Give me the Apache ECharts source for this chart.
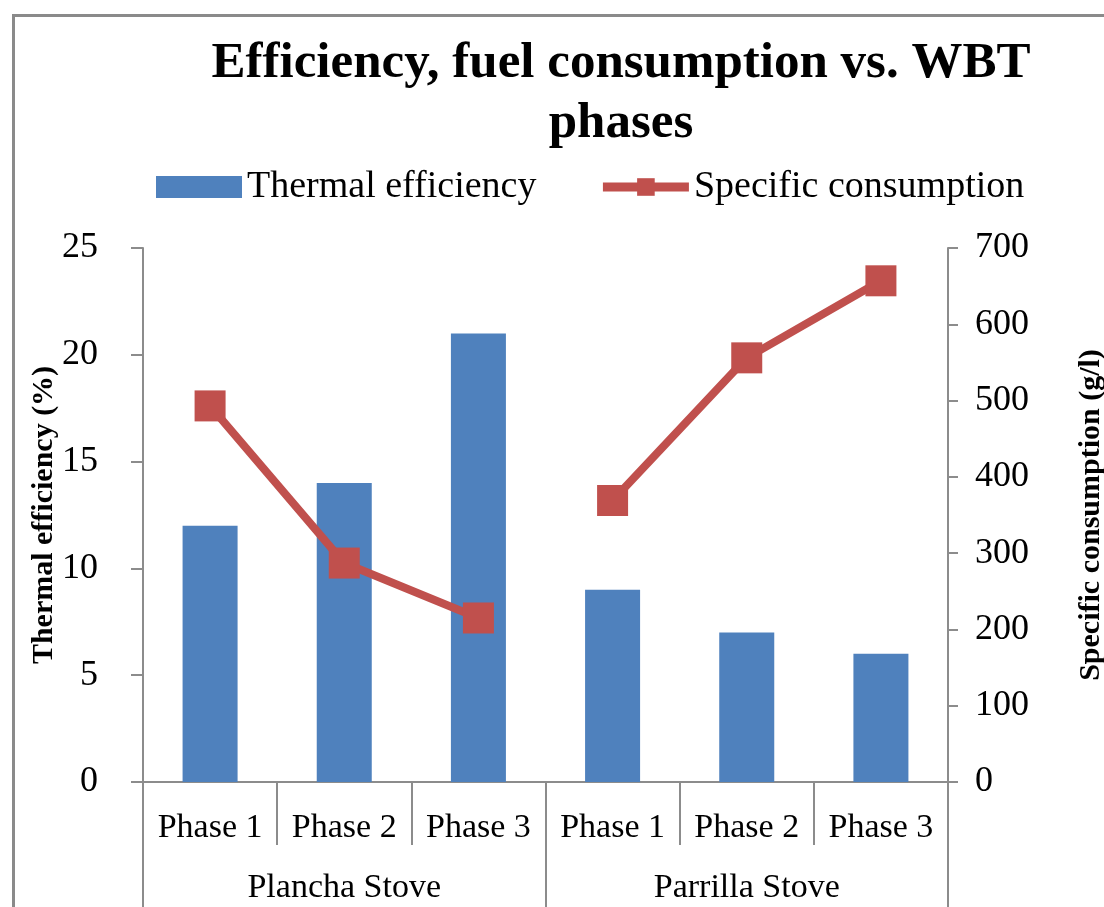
<!DOCTYPE html>
<html>
<head>
<meta charset="utf-8">
<script src="https://cdn.jsdelivr.net/npm/echarts@6/dist/echarts.min.js"></script>
<style>
html,body{margin:0;padding:0;background:#fff;}
#chart{width:1104px;height:907px;}
</style>
</head>
<body>
<div id="chart"></div>
<script>
const phases = ['Phase 1', 'Phase 2', 'Phase 3', 'Phase 1', 'Phase 2', 'Phase 3'];
const stoves = ['Plancha Stove', 'Parrilla Stove'];
const thermalEfficiency = [12, 14, 21, 9, 7, 6];
const specificConsumption = [493, 287, 215, 369, 556, 657];
const leftTicks = {min: 0, max: 25, interval: 5};
const rightTicks = {min: 0, max: 700, interval: 100};

// the line is broken between the two stoves
const perStove = phases.length / stoves.length;
const consumptionByStove = stoves.map((s, k) =>
  specificConsumption.map((v, i) => Math.floor(i / perStove) === k ? v : '-'));

const serif = 'Liberation Serif';
const axisGray = '#8c8c8c';
const red = '#C0504D';
const chart = echarts.init(document.getElementById('chart'));
chart.setOption({
  animation: false,
  backgroundColor: '#fff',
  graphic: [{
    type: 'rect', left: 11, top: 13, silent: true,
    shape: {width: 1120, height: 920},
    style: {fill: 'none', stroke: '#8a8a8a', lineWidth: 3}
  }],
  title: {
    text: 'Efficiency, fuel consumption vs. WBT\nphases',
    left: 616, top: 29, textAlign: 'center',
    textStyle: {fontFamily: serif, fontWeight: 'bold', fontSize: 51, lineHeight: 60, color: '#000'}
  },
  legend: {
    left: 151, top: 163, itemGap: 62, itemWidth: 86, itemHeight: 22,
    textStyle: {fontFamily: serif, fontSize: 38, color: '#000'},
    lineStyle: {width: 9},
    data: [{name: 'Thermal efficiency', icon: 'rect'}, {name: 'Specific consumption'}]
  },
  grid: {left: 143, right: 156, top: 248, bottom: 125, containLabel: false, outerBoundsMode: 'none'},
  xAxis: [{
    type: 'category', data: phases, position: 'bottom',
    axisLine: {show: true, lineStyle: {color: axisGray, width: 2}},
    axisTick: {show: true, interval: 0, length: 63, lineStyle: {color: axisGray, width: 2}},
    axisLabel: {margin: 29, fontFamily: serif, fontSize: 34, color: '#000', interval: 0}
  }, {
    type: 'category', data: stoves, position: 'bottom',
    axisLine: {show: false},
    axisTick: {show: true, interval: 0, length: 130, lineStyle: {color: axisGray, width: 2}},
    axisLabel: {margin: 89, fontFamily: serif, fontSize: 34, color: '#000', interval: 0}
  }],
  yAxis: [{
    type: 'value', position: 'left', min: leftTicks.min, max: leftTicks.max, interval: leftTicks.interval,
    name: 'Thermal efficiency (%)', nameLocation: 'middle', nameGap: 84, nameRotate: 90, nameMoveOverlap: false,
    nameTextStyle: {fontFamily: serif, fontWeight: 'bold', fontSize: 30, color: '#000'},
    axisLine: {show: true, lineStyle: {color: axisGray, width: 2}},
    axisTick: {show: true, length: 12, lineStyle: {color: axisGray, width: 2}},
    axisLabel: {margin: 45, fontFamily: serif, fontSize: 36, color: '#000'},
    splitLine: {show: false}
  }, {
    type: 'value', position: 'right', min: rightTicks.min, max: rightTicks.max, interval: rightTicks.interval,
    name: 'Specific consumption (g/l)', nameLocation: 'middle', nameGap: 128, nameRotate: 90,
    nameTextStyle: {fontFamily: serif, fontWeight: 'bold', fontSize: 30, color: '#000'},
    axisLine: {show: true, lineStyle: {color: axisGray, width: 2}},
    axisTick: {show: true, length: 10, lineStyle: {color: axisGray, width: 2}},
    axisLabel: {margin: 27, fontFamily: serif, fontSize: 36, color: '#000'},
    splitLine: {show: false}
  }],
  series: [{
    name: 'Thermal efficiency', type: 'bar', xAxisIndex: 0, yAxisIndex: 0,
    data: thermalEfficiency, barWidth: '41%',
    itemStyle: {color: '#4F81BD'}
  }].concat(consumptionByStove.map(d => ({
    name: 'Specific consumption', type: 'line', xAxisIndex: 0, yAxisIndex: 1,
    data: d, symbol: 'rect', symbolSize: 31, connectNulls: false,
    lineStyle: {color: red, width: 8},
    itemStyle: {color: red}
  })))
});
</script>
</body>
</html>
